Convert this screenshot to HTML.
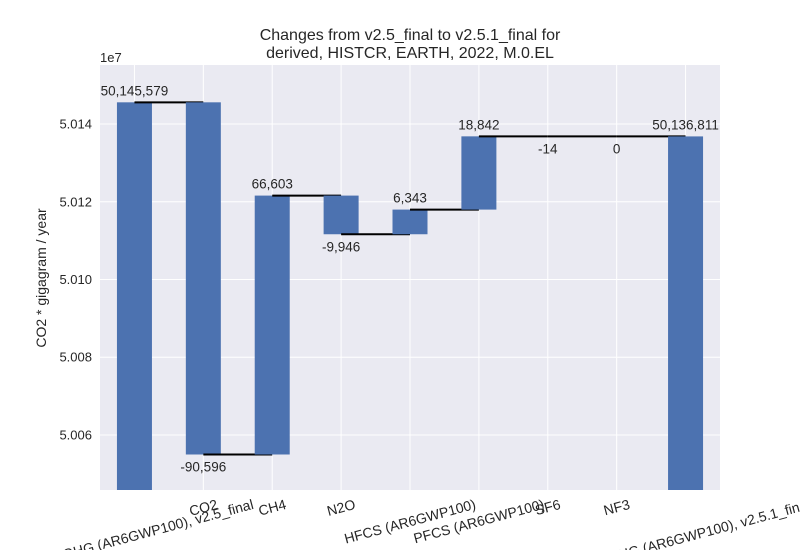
<!DOCTYPE html>
<html><head><meta charset="utf-8"><style>
body{margin:0;background:#fff;}
svg{display:block;font-family:"Liberation Sans",sans-serif;}
</style></head><body>
<svg id="chart" width="800" height="550">
<rect x="0" y="0" width="800" height="550" fill="#fff"/>
<rect x="100" y="65" width="620" height="425" fill="#eaeaf2"/>
<g id="grid"></g><g id="bars"></g><g id="labels"></g>
<text x="410" y="40" text-anchor="middle" font-size="16" fill="#262626">Changes from v2.5_final to v2.5.1_final for</text>
<text x="410" y="58" text-anchor="middle" font-size="16" fill="#262626">derived, HISTCR, EARTH, 2022, M.0.EL</text>
<text x="100" y="62" font-size="13" fill="#262626">1e7</text>
<text transform="translate(46,278) rotate(-90)" text-anchor="middle" font-size="14" fill="#262626">CO2 * gigagram / year</text>
</svg>
<script>
const categories=["KYOTOGHG (AR6GWP100), v2.5_final","CO2","CH4","N2O","HFCS (AR6GWP100)","PFCS (AR6GWP100)","SF6","NF3","KYOTOGHG (AR6GWP100), v2.5.1_final"];
const deltas=[-90596,66603,-9946,6343,18842,-14,0];
const startValue=50145579;
const endValue=50136811;
const valueLabels=["50,145,579","-90,596","66,603","-9,946","6,343","18,842","-14","0","50,136,811"];
const yTicks=[50060000,50080000,50100000,50120000,50140000];
const yTickLabels=["5.006","5.008","5.010","5.012","5.014"];
const yMin=50045850, yMax=50155180;
const L=100,R=720,T=65,B=490;
const ns="http://www.w3.org/2000/svg";
const xs=i=>L+(i+0.5)*(R-L)/categories.length;
const ys=v=>B-(v-yMin)/(yMax-yMin)*(B-T);
const bw=35;
function mk(tag,attrs,parent,text){const e=document.createElementNS(ns,tag);for(const k in attrs)e.setAttribute(k,attrs[k]);if(text!==undefined)e.textContent=text;parent.appendChild(e);return e;}
const grid=document.getElementById('grid'),bars=document.getElementById('bars'),lab=document.getElementById('labels');
yTicks.forEach((t,i)=>{
 const l=mk('line',{x1:L,x2:R,y1:ys(t),y2:ys(t),stroke:'#fff','stroke-width':1},grid);
 
 
 const tx=mk('text',{x:L-8,y:ys(t)+4.5,'text-anchor':'end','font-size':13,fill:'#262626'},lab,yTickLabels[i]);
 
 
});
categories.forEach((c,i)=>{
 const l=mk('line',{x1:xs(i),x2:xs(i),y1:T,y2:B,stroke:'#fff','stroke-width':1},grid);
 
 
});
let cum=startValue;const segs=[];
segs.push({lo:yMin,hi:startValue,level:startValue,neg:false});
deltas.forEach(d=>{const a=cum,b=cum+d;segs.push({lo:Math.min(a,b),hi:Math.max(a,b),level:b,neg:d<=0});cum=b;});
segs.push({lo:yMin,hi:endValue,level:endValue,neg:false});
segs.forEach((s,i)=>{
 const h=ys(s.lo)-ys(s.hi);
 if(h>0.3){const r=mk('rect',{x:xs(i)-bw/2,y:ys(s.hi),width:bw,height:h,fill:'#4c72b0'},bars);
 
 }
 if(i<segs.length-1){const ln=mk('line',{x1:xs(i),x2:xs(i+1),y1:ys(s.level),y2:ys(s.level),stroke:'#000','stroke-width':2},bars);
 
 }
 const ly=s.neg?ys(s.lo)+17:ys(s.hi)-7;
 const t=mk('text',{x:xs(i),y:ly,'text-anchor':'middle','font-size':13.5,fill:'#262626'},lab,valueLabels[i]);
 
 
});
categories.forEach((c,i)=>{
 const t=mk('text',{'text-anchor':'middle','dominant-baseline':'central','font-size':14,fill:'#262626'},lab,c);
 
 
 const w=t.getComputedTextLength();
 const a=15*Math.PI/180;
 const bh=w*Math.sin(a)+16*Math.cos(a);
 const cx=xs(i),cy=B+6+bh/2;
 t.setAttribute('x',cx);t.setAttribute('y',cy);
 t.setAttribute('transform','rotate(-15 '+cx+' '+cy+')');
});
</script>
</body></html>
